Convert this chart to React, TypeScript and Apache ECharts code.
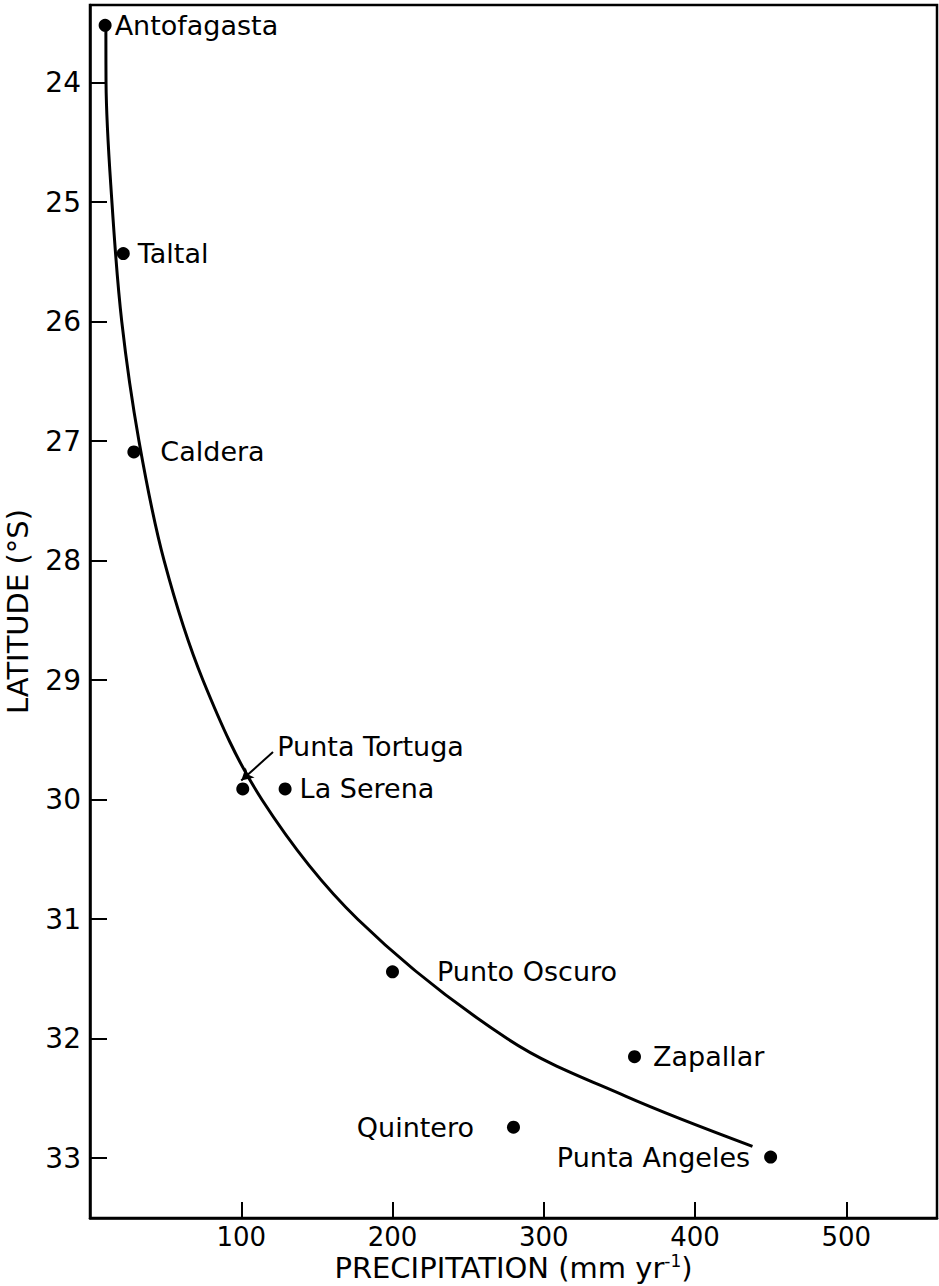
import React, { useEffect, useRef } from "react";
import * as echarts from "echarts";

// Stations (precipitation mm/yr, latitude °S)
const stationNames = [
  "Antofagasta",
  "Taltal",
  "Caldera",
  "Punta Tortuga",
  "La Serena",
  "Punto Oscuro",
  "Zapallar",
  "Quintero",
  "Punta Angeles",
];
const stationPrecip = [10, 22, 29, 101, 129, 200, 360, 280, 450];
const stationLat = [23.52, 25.43, 27.09, 29.91, 29.91, 31.44, 32.15, 32.74, 32.99];

// Fitted curve
const curvePrecip = [10.5, 10.6, 14.5, 21, 32.4, 49, 74.7, 113.7, 177, 276, 354, 438];
const curveLat = [23.56, 24.0, 25.0, 26.0, 27.0, 28.0, 29.0, 30.0, 31.0, 32.0, 32.48, 32.9];

// Arrow pointing to Punta Tortuga
const arrowPrecip = [121, 100];
const arrowLat = [29.6, 29.84];

const xTicks = [100, 200, 300, 400, 500];
const yTicks = [24, 25, 26, 27, 28, 29, 30, 31, 32, 33];

const FONT = "DejaVu Sans";
const W = 939;
const H = 1286;

export default function App() {
  const ref = useRef<HTMLDivElement>(null);
  useEffect(() => {
    if (!ref.current) return;
    const chart = echarts.init(ref.current, undefined, { renderer: "svg" });

    const labelPlace: Record<string, any> = {
      Antofagasta: { position: "right", offset: [-2, 0] },
      Taltal: { position: "right", offset: [3, 0] },
      Caldera: { position: "right", offset: [15, 0] },
      "Punta Tortuga": { position: "right", offset: [23, -42] },
      "La Serena": { position: "right", offset: [3, 0] },
      "Punto Oscuro": { position: "right", offset: [33, 0] },
      Zapallar: { position: "right", offset: [7, 0] },
      Quintero: { position: "left", offset: [-28, 0] },
      "Punta Angeles": { position: "left", offset: [-9, 0] },
    };

    const scatterData = stationNames.map((n, i) => ({
      name: n,
      value: [stationPrecip[i], stationLat[i]],
      label: { show: true, formatter: n, ...labelPlace[n] },
    }));

    const curveData = curvePrecip.map((p, i) => [p, curveLat[i]]);

    chart.setOption({
      animation: false,
      backgroundColor: "#ffffff",
      grid: {
        left: 90,
        right: 2,
        top: 5,
        bottom: 68,
        outerBoundsMode: "none",
        containLabel: false,
        show: true,
        borderColor: "#000",
        borderWidth: 2.5,
      },
      xAxis: {
        type: "value",
        min: 0,
        max: 560,
        interval: 100,
        name: "{t|PRECIPITATION (mm yr}{s|-1}{t|)}",
        nameLocation: "middle",
        nameGap: 34,
        nameMoveOverlap: false,
        nameTextStyle: {
          rich: {
            t: { fontFamily: FONT, fontSize: 29, color: "#000", lineHeight: 32 },
            s: { fontFamily: FONT, fontSize: 17, color: "#000", lineHeight: 18, verticalAlign: "top" },
          },
        },
        axisLine: { show: true, onZero: false, lineStyle: { color: "#000", width: 2.5 } },
        axisTick: { show: true, inside: true, length: 16, lineStyle: { color: "#000", width: 2 } },
        splitLine: { show: false },
        axisLabel: {
          fontFamily: FONT,
          fontSize: 26,
          color: "#000",
          margin: 6,
          formatter: (v: number) => (xTicks.includes(v) ? String(v) : ""),
        },
      },
      yAxis: {
        type: "value",
        inverse: true,
        min: 23.35,
        max: 33.5,
        minInterval: 1,
        maxInterval: 1,
        splitNumber: 10,
        name: "LATITUDE (°S)",
        nameLocation: "middle",
        nameGap: 58,
        nameMoveOverlap: false,
        nameRotate: 90,
        nameTextStyle: { fontFamily: FONT, fontSize: 29, color: "#000" },
        axisLine: { show: true, onZero: false, lineStyle: { color: "#000", width: 2.5 } },
        axisTick: { show: true, inside: true, length: 17, lineStyle: { color: "#000", width: 2 } },
        splitLine: { show: false },
        axisLabel: {
          fontFamily: FONT,
          fontSize: 28,
          color: "#000",
          margin: 9,
          formatter: (v: number) => (yTicks.includes(Math.round(v * 1000) / 1000) ? String(v) : ""),
        },
      },
      series: [
        {
          type: "line",
          data: curveData,
          smooth: 0.35,
          showSymbol: false,
          symbol: "none",
          lineStyle: { color: "#000", width: 3 },
          z: 2,
          markLine: {
            silent: true,
            symbol: ["none", "arrow"],
            symbolSize: [10, 12],
            label: { show: false },
            lineStyle: { color: "#000", width: 2, type: "solid" },
            data: [
              [
                { coord: [arrowPrecip[0], arrowLat[0]] },
                { coord: [arrowPrecip[1], arrowLat[1]] },
              ],
            ],
          },
        },
        {
          type: "scatter",
          data: scatterData,
          symbol: "circle",
          symbolSize: 13,
          itemStyle: { color: "#000", opacity: 1 },
          label: {
            show: true,
            fontFamily: FONT,
            fontSize: 27,
            color: "#000",
            opacity: 1,
          },
          z: 3,
        },
      ],
    });
    return () => chart.dispose();
  }, []);
  return (
    <div
      ref={ref}
      style={{ position: "fixed", left: 0, top: 0, width: W, height: H }}
    />
  );
}
